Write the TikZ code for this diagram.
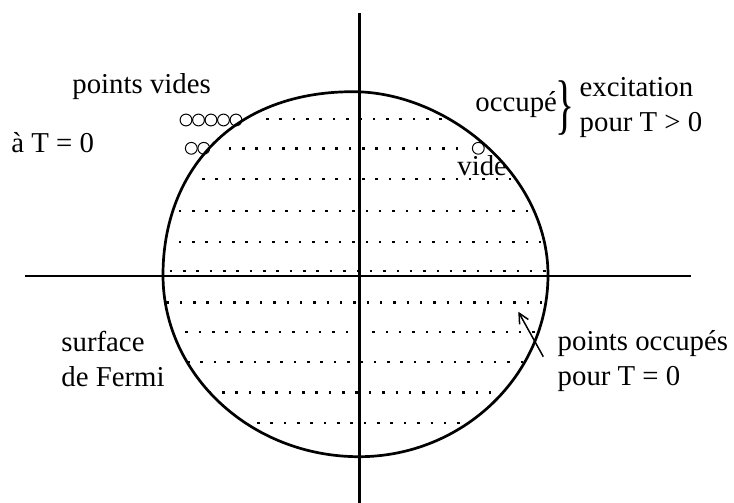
\documentclass[tikz,border=0pt]{standalone}
\usepackage{fontspec}
\setmainfont{Liberation Serif}
\usepackage{graphicx}
\usetikzlibrary{arrows.meta}

\begin{document}
\begin{tikzpicture}[
  x=0.5pt, y=-0.5pt,
  lbl/.style={anchor=base west, inner sep=0pt, align=left, font=\fontsize{14.4}{17.5}\selectfont},
  axe/.style={line width=1.35pt},
  fermi/.style={line width=1.35pt},
  dotrow/.style={line width=1.25pt, dash pattern=on 1.25pt off 5.42pt},
  vidept/.style={circle, draw, line width=0.5pt, minimum size=5.9pt, inner sep=0pt},
  arrow/.style={-{Straight Barb[length=5pt, width=5pt]}, line width=0.75pt}
]
  \useasboundingbox (0,0) rectangle (734,503);

  \foreach \y/\xa/\xb in {119/267.3/443.3, 148.5/230/460, 179/203.3/513.3, 211/180/528.3,
      242/180/541.7, 271/171/545, 302.5/167.7/541.7, 332/186.7/533.3, 362/188.3/521.7,
      392.5/210/493.3, 423/245/461.7}
    \draw[dotrow] (\xa-1.25,\y) -- (\xb+1.5,\y);

  \draw[axe] (359.3,12.7) -- (359.3,503);
  \draw[axe] (25,276) -- (691,276);
  \draw[fermi] (353,91.7) .. controls (229.5,91.7) and (163,174) .. (163,275)
    .. controls (163,375) and (251,456.7) .. (359,456.7)
    .. controls (463,456.7) and (548,375) .. (548,275)
    .. controls (548,174) and (446.6,91.7) .. (353,91.7) -- cycle;

  \foreach \i/\x in {1/186,2/198.5,3/211,4/223.5,5/236}
    \node[vidept] (v\i) at (\x,120) {};
  \node[vidept] (w1) at (191.3,148.3) {};
  \node[vidept] (w2) at (203.8,148.3) {};
  \node[vidept] (trou) at (478.3,148.3) {};

  \node[lbl] (vides) at (72,93) {points vides};
  \node[lbl] (aT) at (11,152) {à T = 0};
  \node[lbl] (occ) at (475,111.5) {occupé};
  \node[inner sep=0pt, font=\fontsize{33}{33}\selectfont] (acc) at (565,108.3) {\scalebox{0.6}[1]{\}}};
  \node[lbl] (excit) at (579.3,131.7) {excitation\\pour T > 0};
  \node[lbl] (vide) at (457,175.5) {vide};
  \node[lbl] (surf) at (61,386.7) {surface\\de Fermi};
  \node[lbl] (occT) at (557.3,385) {points occupés\\pour T = 0};

  \coordinate (flqA) at (543.3,356.7);
  \coordinate (flqB) at (518.3,311.7);
  \draw[arrow] (flqA) -- (flqB);
\end{tikzpicture}
\end{document}
